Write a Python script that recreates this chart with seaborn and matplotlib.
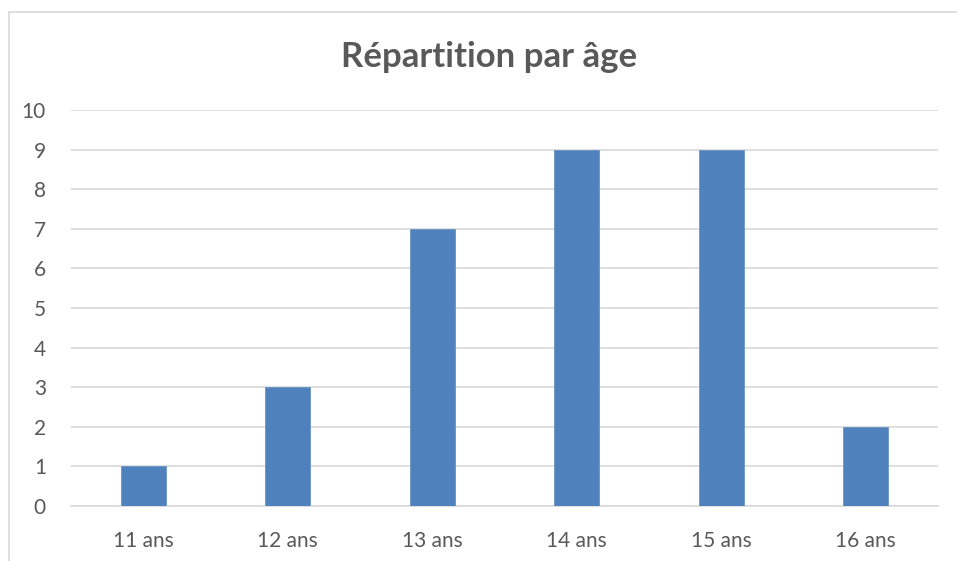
import matplotlib
matplotlib.use("Agg")
import matplotlib.pyplot as plt
import seaborn as sns
import pandas as pd
from matplotlib.patches import Rectangle

ages = ["11 ans", "12 ans", "13 ans", "14 ans", "15 ans", "16 ans"]
counts = [1, 3, 7, 9, 9, 2]
y_ticks = list(range(0, 11))

sns.set_style("white")
plt.rcParams["font.family"] = ["Lato", "DejaVu Sans"]

df = pd.DataFrame({"age": ages, "count": counts})

fig = plt.figure(figsize=(9.57, 5.61), dpi=100)
# outer chart frame
fig.patches.append(Rectangle((9 / 957, -0.01), 1.0, (561 - 12) / 561 + 0.01,
                             transform=fig.transFigure, fill=False,
                             edgecolor="#d9d9d9", linewidth=1.2))

ax = fig.add_axes([71 / 957, 55 / 561, (938 - 71) / 957, (506 - 110) / 561])
sns.barplot(data=df, x="age", y="count", color="#4f81bd", saturation=1,
            width=0.31, ax=ax, zorder=3, edgecolor="#6a93c6", linewidth=0.6)

ax.set_ylim(0, 10)
ax.set_yticks(y_ticks)
ax.yaxis.grid(True, color="#d9d9d9", linewidth=1.2, zorder=0)
ax.set_axisbelow(True)
for s in ["top", "right", "left"]:
    ax.spines[s].set_visible(False)
ax.spines["bottom"].set_color("#d9d9d9")
ax.spines["bottom"].set_linewidth(1.2)
ax.tick_params(axis="both", length=0, labelsize=15, colors="#595959")
ax.tick_params(axis="x", pad=18)
ax.tick_params(axis="y", pad=18)
ax.set_xlabel("")
ax.set_ylabel("")

fig.text(489 / 957, 1 - 57 / 561, "Répartition par âge", ha="center", va="center",
         fontsize=25, fontweight="bold", color="#595959")

fig.savefig("out.png", dpi=100)
